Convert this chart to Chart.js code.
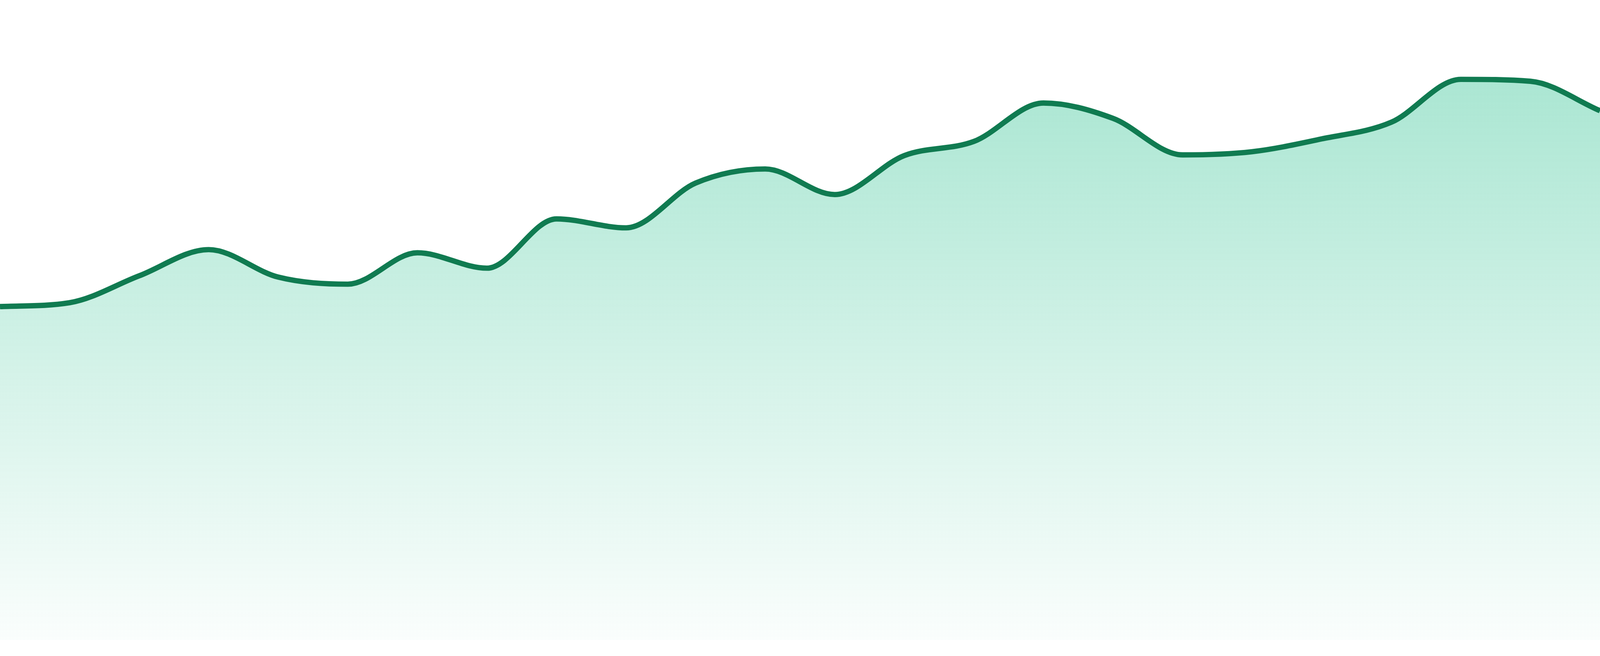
<!DOCTYPE html>
<html>
<head>
<meta charset="utf-8">
<script src="https://cdn.jsdelivr.net/npm/chart.js@4.4.1/dist/chart.umd.min.js"></script>
<style>
  html, body { margin: 0; padding: 0; background: #ffffff; overflow: hidden; }
  #wrap { width: 100vw; height: 100vh; position: relative; }
</style>
</head>
<body>
<div id="wrap"><canvas id="area"></canvas></div>
<script>
// hourly readings
var labels = ['00:00', '01:00', '02:00', '03:00', '04:00', '05:00', '06:00', '07:00',
              '08:00', '09:00', '10:00', '11:00', '12:00', '13:00', '14:00', '15:00',
              '16:00', '17:00', '18:00', '19:00', '20:00', '21:00', '22:00', '23:00'];
var values = [52.1, 52.7, 56.9, 61.0, 56.7, 55.6, 60.5, 58.1,
              65.8, 64.4, 71.4, 73.6, 69.6, 75.7, 77.9, 83.9,
              81.5, 75.8, 76.3, 78.3, 80.9, 87.6, 87.3, 82.7];
var yMin = 0;
var yMax = 100;

var lineColor = '#107b51';

// the picture is 4800 px wide; scale pixel sizes to whatever css width we get
var s = window.innerWidth / 4800;

function fillGradient(context) {
  var chart = context.chart;
  var area = chart.chartArea;
  if (!area) return 'rgba(16,185,129,0.3)';
  var g = chart.ctx.createLinearGradient(0, area.top, 0, area.bottom);
  g.addColorStop(0, 'rgba(16,185,129,0.40)');
  g.addColorStop(1, 'rgba(16,185,129,0.02)');
  return g;
}

var ctx = document.getElementById('area').getContext('2d');
var chart = new Chart(ctx, {
  type: 'line',
  data: {
    labels: labels,
    datasets: [{
      data: values,
      borderColor: lineColor,
      borderWidth: 16 * s,
      backgroundColor: fillGradient,
      fill: 'start',
      pointRadius: 0,
      pointHoverRadius: 0,
      cubicInterpolationMode: 'monotone'
    }]
  },
  options: {
    responsive: true,
    maintainAspectRatio: false,
    animation: false,
    layout: { padding: { left: 0, right: 0, top: 0, bottom: 48 * s } },
    plugins: {
      legend: { display: false },
      tooltip: { enabled: false }
    },
    scales: {
      x: { display: false, offset: false },
      y: { display: false, min: yMin, max: yMax }
    }
  }
});
</script>
</body>
</html>
